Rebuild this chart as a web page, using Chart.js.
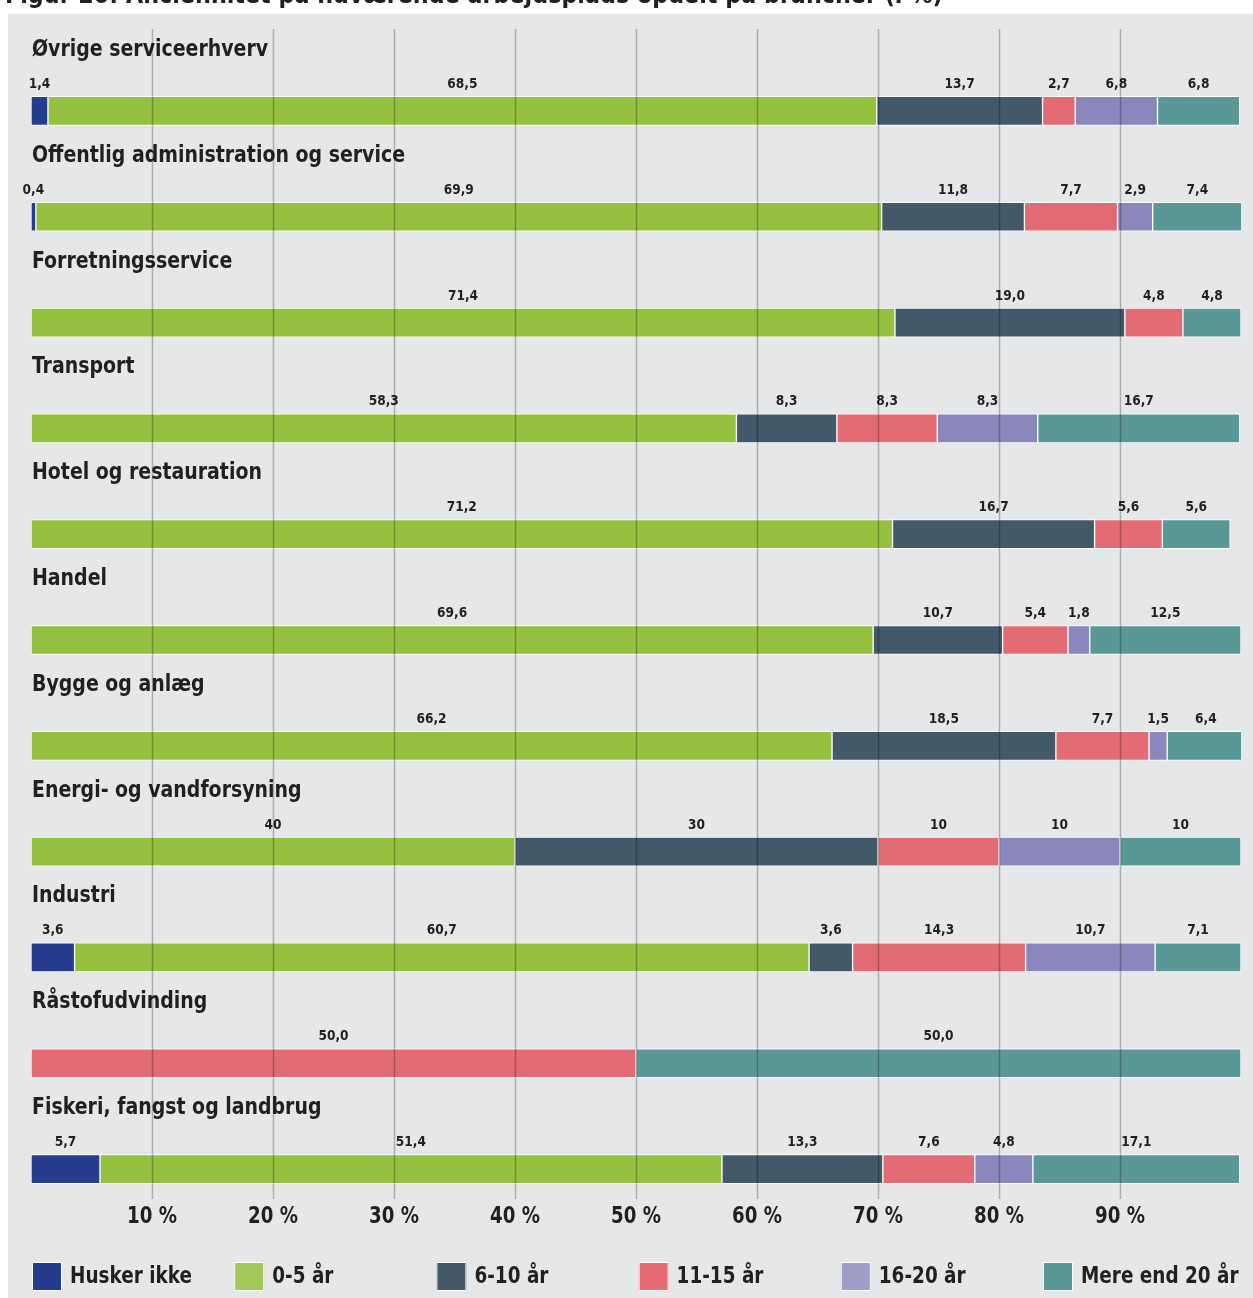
<!DOCTYPE html>
<html>
<head>
<meta charset="utf-8">
<script src="https://cdn.jsdelivr.net/npm/chart.js@4.4.1/dist/chart.umd.min.js"></script>
<style>
  body { margin: 0; background: #fff; }
  #wrap { width: 1253px; height: 1298px; }
</style>
</head>
<body>
<div id="wrap"><canvas id="myChart" width="1253" height="1298"></canvas></div>
<script>
const title = "Figur 20: Anciennitet på nuværende arbejdsplads opdelt på brancher (i %)";
const categories = [
    "Øvrige serviceerhverv",
    "Offentlig administration og service",
    "Forretningsservice",
    "Transport",
    "Hotel og restauration",
    "Handel",
    "Bygge og anlæg",
    "Energi- og vandforsyning",
    "Industri",
    "Råstofudvinding",
    "Fiskeri, fangst og landbrug"
];
const seriesNames = ["Husker ikke", "0-5 år", "6-10 år", "11-15 år", "16-20 år", "Mere end 20 år"];
const huskerIkke = [1.4, 0.4, 0, 0, 0, 0, 0, 0, 3.6, 0, 5.7];
const aar0_5 = [68.5, 69.9, 71.4, 58.3, 71.2, 69.6, 66.2, 40, 60.7, 0, 51.4];
const aar6_10 = [13.7, 11.8, 19.0, 8.3, 16.7, 10.7, 18.5, 30, 3.6, 0, 13.3];
const aar11_15 = [2.7, 7.7, 4.8, 8.3, 5.6, 5.4, 7.7, 10, 14.3, 50.0, 7.6];
const aar16_20 = [6.8, 2.9, 0, 8.3, 0, 1.8, 1.5, 10, 10.7, 0, 4.8];
const over20 = [6.8, 7.4, 4.8, 16.7, 5.6, 12.5, 6.4, 10, 7.1, 50.0, 17.1];
const decimals = [1, 1, 1, 1, 1, 1, 1, 0, 1, 1, 1];
const xTicks = [10, 20, 30, 40, 50, 60, 70, 80, 90];

const colors = ["#243d8f", "#95c140", "#42596a", "#e36b74", "#8987bb", "#5a9898"];
const legendColors = ["#243b8c", "#a3c75a", "#435968", "#e56b75", "#9f9ec8", "#5a9797"];

const FONT = "'DejaVu Sans Condensed', 'DejaVu Sans', sans-serif";
const TEXT = "#231f20";

const ctx = document.getElementById("myChart");

const allSeries = [huskerIkke, aar0_5, aar6_10, aar11_15, aar16_20, over20];

const data = {
    labels: categories,
    datasets: allSeries.map((vals, i) => ({
        label: seriesNames[i],
        data: vals,
        backgroundColor: colors[i],
        borderColor: "#ffffff",
        borderWidth: 1,
        borderSkipped: false,
        barThickness: 29
    }))
};

// text squeezed horizontally, the original face is narrower than DejaVu
function squeezeText(c, txt, x, y, sx) {
    c.save();
    c.translate(x, y);
    c.scale(sx, 1);
    c.fillText(txt, 0, 0);
    c.restore();
}

// grey panel + clipped title
const panel = {
    id: "panel",
    beforeDraw(chart) {
        const c = chart.ctx;
        c.save();
        c.fillStyle = "#ffffff";
        c.fillRect(0, 0, chart.width, chart.height);
        c.fillStyle = "#e6e7e9";
        c.fillRect(8, 14, chart.width - 8, chart.height - 14);
        c.fillStyle = TEXT;
        c.font = "bold 25px " + FONT;
        c.textBaseline = "alphabetic";
        squeezeText(c, title, 5, 3, 0.99);
        c.restore();
    }
};

// labels, grid on top, ticks and legend
const overlay = {
    id: "overlay",
    afterDatasetsDraw(chart) {
        const c = chart.ctx;
        const xs = chart.scales.x;
        const ys = chart.scales.y;
        c.save();
        c.fillStyle = TEXT;

        // category names above bars
        c.font = "bold 23px " + FONT;
        c.textAlign = "left";
        c.textBaseline = "alphabetic";
        categories.forEach((name, j) => {
            const y = ys.getPixelForValue(j);
            squeezeText(c, name, xs.getPixelForValue(0) + 1, y - 55, 0.915);
        });

        // value labels centered over each segment
        c.font = "bold 14px " + FONT;
        c.textAlign = "center";
        chart.data.datasets.forEach((ds, i) => {
            const meta = chart.getDatasetMeta(i);
            meta.data.forEach((bar, j) => {
                const v = ds.data[j];
                if (!v) return;
                const txt = v.toFixed(decimals[j]).replace(".", ",");
                const cx = (bar.x + bar.base) / 2;
                squeezeText(c, txt, cx, bar.y - 23, 0.97);
            });
        });

        // grid lines drawn over the bars
        c.strokeStyle = "rgba(0,0,0,0.25)";
        c.lineWidth = 1.5;
        xTicks.forEach(t => {
            const x = Math.round(xs.getPixelForValue(t)) + 0.5;
            c.beginPath();
            c.moveTo(x, 29);
            c.lineTo(x, 1199);
            c.stroke();
        });

        // tick labels
        c.font = "bold 23px " + FONT;
        c.textBaseline = "middle";
        xTicks.forEach(t => {
            squeezeText(c, t + " %", xs.getPixelForValue(t), 1217, 0.88);
        });

        // legend
        c.textAlign = "left";
        seriesNames.forEach((name, i) => {
            const x0 = 32 + i * 202.2;
            c.fillStyle = legendColors[i];
            c.fillRect(x0, 1262, 30, 29);
            c.strokeStyle = "#ffffff";
            c.lineWidth = 1;
            c.strokeRect(x0 + 0.5, 1262.5, 29, 28);
            c.fillStyle = TEXT;
            squeezeText(c, name, x0 + 38, 1277, 0.89);
        });
        c.restore();
    }
};

new Chart(ctx, {
    type: "bar",
    data: data,
    options: {
        indexAxis: "y",
        responsive: false,
        animation: false,
        layout: {
            padding: { left: 31, right: 12, top: 58, bottom: 76 }
        },
        scales: {
            x: {
                stacked: true,
                min: 0,
                max: 100,
                display: false
            },
            y: {
                stacked: true,
                display: false
            }
        },
        plugins: {
            legend: { display: false },
            tooltip: { enabled: false }
        }
    },
    plugins: [panel, overlay]
});
</script>
</body>
</html>
